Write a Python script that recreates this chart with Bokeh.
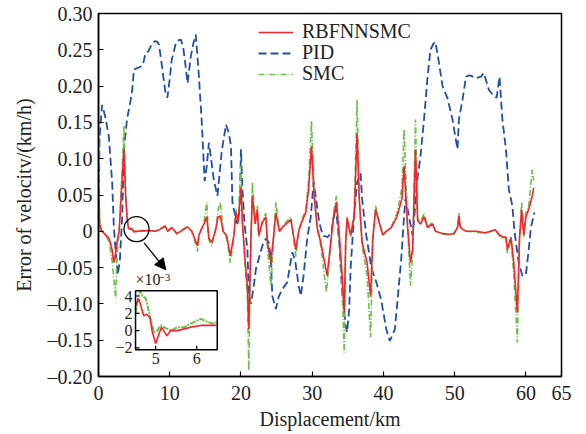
from bokeh.plotting import figure
from bokeh.models import (Range1d, FixedTicker, Legend, LegendItem, Arrow, NormalHead,
                          CustomJSTickFormatter)
from bokeh.embed import file_html
from bokeh.resources import INLINE
from bokeh.core.properties import value

FONT = "Liberation Serif"

# ---------------- data ----------------
pid_km = [0.0, 0.15, 0.5, 0.9, 1.45, 1.92, 2.15, 2.35, 2.7, 3.0, 3.33, 3.57, 4.0, 4.5, 4.74, 4.97,
          5.5, 6.2, 6.6, 7.0, 7.55, 8.0, 8.26, 8.5, 8.97, 9.44, 9.67, 10.0, 10.28, 10.85, 11.2,
          11.55, 11.87, 12.2, 12.5, 12.96, 13.3, 13.66, 14.1, 14.5, 14.9, 15.2, 15.5, 15.8, 16.2,
          16.7, 17.3, 17.9, 18.3, 18.6, 18.8, 19.0, 19.5, 19.8, 20.0, 20.2, 20.5, 20.9, 21.1,
          21.4, 21.8, 22.1, 23.0, 23.5, 23.9, 24.2, 24.4, 24.9, 25.3, 25.8, 26.5, 27.2, 27.6,
          28.1, 28.4, 28.8, 29.3, 29.8, 30.2, 30.6, 31.0, 31.5, 32.2, 32.7, 33.3, 33.8, 34.2,
          34.7, 34.9, 35.2, 35.4, 35.9, 36.3, 36.8, 37.0, 37.6, 38.3, 39.0, 39.7, 40.4, 40.9,
          41.6, 42.0, 42.5, 42.9, 43.1, 43.6, 44.1, 44.3, 44.7, 45.2, 45.7, 46.2, 46.6, 47.0,
          47.3, 47.8, 48.3, 49.0, 49.7, 50.1, 50.4, 50.6, 51.1, 51.6, 52.1, 53.0, 53.7, 54.1,
          54.8, 55.5, 55.9, 56.3, 56.7, 57.2, 57.6, 58.1, 58.4, 58.6, 59.0, 59.5, 60.0, 60.4,
          60.7, 61.2]
pid_err = [0.0, 0.13, 0.174, 0.160, 0.131, 0.067, 0.007, -0.02, -0.06, -0.04, 0.021, 0.113, 0.154,
           0.18, 0.195, 0.223, 0.225, 0.228, 0.245, 0.248, 0.259, 0.262, 0.261, 0.257, 0.223,
           0.188, 0.184, 0.21, 0.236, 0.259, 0.263, 0.264, 0.255, 0.23, 0.204, 0.241, 0.258,
           0.271, 0.213, 0.15, 0.069, 0.09, 0.122, 0.10, 0.07, 0.049, 0.11, 0.147, 0.135, 0.117,
           0.04, 0.03, 0.01, 0.03, 0.113, 0.06, 0.01, -0.025, -0.085, -0.10, -0.075, -0.052,
           -0.02, -0.01, -0.015, -0.038, -0.089, -0.107, -0.09, -0.08, -0.07, -0.029, -0.04,
           -0.075, -0.089, -0.06, -0.01, 0.02, 0.068, 0.04, 0.012, -0.006, -0.008, 0.0, 0.035,
           -0.015, -0.084, -0.13, -0.139, -0.107, -0.05, 0.026, 0.067, 0.08, 0.045, -0.006,
           -0.05, -0.07, -0.095, -0.135, -0.151, -0.135, -0.093, -0.038, 0.021, 0.045, 0.02,
           -0.006, 0.015, 0.067, 0.103, 0.154, 0.213, 0.25, 0.258, 0.261, 0.232, 0.2, 0.183,
           0.154, 0.13, 0.113, 0.154, 0.181, 0.213, 0.215, 0.211, 0.213, 0.218, 0.195, 0.186,
           0.184, 0.213, 0.154, 0.113, 0.058, 0.035, 0.0, -0.015, -0.043, -0.061, -0.06, -0.025,
           0.005, 0.026]

rbf_km = [0.0, 0.05, 0.15, 0.5, 1.0, 1.5, 1.9, 2.15, 2.4, 2.6, 2.9, 3.3, 3.57, 3.8, 4.0, 4.2,
          4.5, 4.59, 4.71, 4.86, 4.92, 5.0, 5.08, 5.14, 5.22, 5.27, 5.37, 5.53, 5.7, 5.85, 6.1,
          6.46, 7.0, 8.0, 8.7, 9.4, 9.7, 10.3, 11.0, 11.7, 12.5, 13.1, 13.7, 13.9, 14.1, 14.8,
          15.2, 15.5, 15.9, 16.4, 16.8, 17.1, 17.5, 18.0, 18.5, 19.0, 19.3, 19.6, 20.0, 20.2,
          20.6, 20.9, 21.1, 21.4, 21.6, 22.0, 22.3, 22.5, 23.0, 23.5, 23.7, 24.2, 24.7, 24.9,
          25.4, 25.8, 26.3, 27.0, 27.7, 28.1, 28.5, 29.1, 29.5, 29.9, 30.3, 30.7, 31.2, 32.1,
          32.6, 33.0, 33.4, 33.8, 34.2, 34.5, 34.7, 34.9, 35.4, 35.9, 36.3, 36.6, 37.0, 37.7,
          38.2, 38.5, 38.9, 39.4, 39.9, 40.4, 41.1, 41.9, 42.6, 42.9, 43.4, 43.8, 44.1, 44.5,
          44.8, 45.2, 45.7, 46.2, 46.9, 47.3, 48.3, 49.2, 49.9, 50.4, 50.6, 50.8, 51.6, 53.0,
          54.3, 55.7, 56.2, 56.7, 57.2, 57.4, 57.9, 58.3, 58.8, 59.1, 59.4, 59.7, 60.0, 60.4,
          60.9, 61.1]
rbf_err = [0.0, 0.06, 0.01, 0.0, -0.005, -0.01, -0.025, -0.043, -0.03, -0.015, 0.0, 0.07, 0.113,
           0.05, 0.02, 0.004, 0.003, 0.0037, 0.0017, 0.0015, -0.0002, -0.0015, -0.0004, 0.0004,
           -0.0002, -0.0006, 0.0, 0.0, 0.0002, 0.0004, 0.0006, 0.0006, 0.001, 0.0, 0.003, 0.007,
           0.0, 0.005, -0.003, 0.001, 0.006, 0.0, -0.015, -0.02, -0.005, 0.01, 0.02, -0.01,
           -0.015, 0.0, 0.02, 0.021, 0.0, -0.006, -0.034, -0.006, 0.026, 0.012, 0.06, 0.012,
           -0.043, -0.075, -0.135, -0.01, 0.049, 0.01, 0.03, -0.005, 0.012, 0.02, -0.015, -0.043,
           0.005, 0.025, 0.0, 0.005, 0.01, 0.016, -0.025, 0.0, 0.012, 0.026, 0.058, 0.117, 0.045,
           0.005, -0.015, -0.061, -0.015, 0.02, 0.04, -0.005, -0.06, -0.112, -0.015, 0.018,
           -0.005, 0.02, 0.135, 0.045, -0.015, -0.043, -0.09, -0.01, 0.03, 0.012, -0.005, 0.0,
           0.005, 0.02, 0.045, 0.09, 0.005, -0.043, -0.025, 0.113, 0.015, 0.01, 0.02, 0.005, 0.01,
           0.0, -0.003, -0.004, -0.003, 0.005, 0.021, 0.005, 0.0, 0.0, -0.002, 0.002, -0.004,
           -0.008, -0.008, -0.025, -0.008, -0.043, -0.112, -0.01, 0.03, -0.005, 0.02, 0.03,
           0.049, 0.06]

smc_km = [0.0, 0.08, 0.2, 0.5, 1.0, 1.5, 1.9, 2.2, 2.4, 2.6, 2.9, 3.3, 3.57, 3.8, 4.0, 4.2, 4.5,
          4.59, 4.63, 4.76, 4.84, 4.88, 4.96, 5.04, 5.12, 5.2, 5.37, 5.53, 5.7, 5.85, 6.1, 6.26,
          6.42, 7.0, 8.0, 8.7, 9.4, 9.7, 10.3, 11.0, 11.7, 12.5, 13.1, 13.7, 13.9, 14.1, 14.8,
          15.2, 15.5, 15.9, 16.4, 16.8, 17.1, 17.5, 18.0, 18.5, 19.0, 19.3, 19.6, 20.0, 20.2,
          20.6, 20.9, 21.1, 21.4, 21.6, 22.0, 22.3, 22.5, 23.0, 23.5, 23.7, 24.2, 24.7, 24.9,
          25.4, 25.8, 26.3, 27.0, 27.7, 28.1, 28.5, 29.1, 29.5, 29.9, 30.3, 30.7, 31.2, 32.0,
          32.6, 33.0, 33.4, 33.8, 34.2, 34.5, 34.7, 34.9, 35.4, 35.9, 36.3, 36.6, 37.0, 37.7,
          38.2, 38.5, 38.9, 39.4, 39.9, 40.4, 41.1, 41.9, 42.6, 42.9, 43.4, 43.8, 44.1, 44.5,
          44.8, 45.2, 45.7, 46.2, 46.9, 47.3, 48.3, 49.2, 49.9, 50.4, 50.6, 50.8, 51.6, 53.0,
          54.3, 55.7, 56.2, 56.7, 57.2, 57.4, 57.9, 58.3, 58.8, 59.1, 59.4, 59.7, 60.0, 60.4,
          60.9, 61.1]
smc_err = [0.2, 0.05, 0.0, 0.0, -0.005, -0.015, -0.04, -0.07, -0.093, -0.03, 0.0, 0.08, 0.145,
           0.06, 0.02, 0.005, 0.0035, 0.0042, 0.0046, 0.0037, 0.0021, 0.0013, -0.0002, 0.0,
           0.0006, 0.0004, 0.0, 0.0004, 0.0004, 0.0008, 0.00135, 0.001, 0.0008, 0.001, 0.0,
           0.004, 0.008, 0.0, 0.006, -0.004, 0.002, 0.007, 0.0, -0.02, -0.028, -0.005, 0.012,
           0.04, -0.012, -0.02, 0.0, 0.03, 0.04, 0.0, -0.01, -0.043, -0.008, 0.03, 0.015, 0.09,
           0.015, -0.05, -0.09, -0.192, -0.015, 0.067, 0.012, 0.035, -0.008, 0.015, 0.025, -0.02,
           -0.075, 0.008, 0.04, 0.0, 0.007, 0.012, 0.02, -0.035, 0.0, 0.015, 0.03, 0.07, 0.152,
           0.05, 0.005, -0.02, -0.084, -0.02, 0.025, 0.049, -0.008, -0.08, -0.167, -0.02, 0.02,
           -0.008, 0.025, 0.181, 0.05, -0.02, -0.06, -0.146, -0.015, 0.035, 0.015, -0.006, 0.0,
           0.006, 0.025, 0.06, 0.14, 0.006, -0.075, -0.03, 0.154, 0.018, 0.012, 0.025, 0.006,
           0.012, 0.0, -0.004, -0.005, -0.004, 0.006, 0.025, 0.006, 0.0, -0.001, -0.003, 0.002,
           -0.005, -0.01, -0.01, -0.03, -0.01, -0.06, -0.153, -0.015, 0.04, -0.008, 0.025, 0.035,
           0.085, 0.07]

# inset (zoomed) data, error in units of 1e-3
ins_rbf_km = [4.51, 4.59, 4.71, 4.78, 4.86, 4.92, 5.0, 5.08, 5.14, 5.22, 5.27, 5.37, 5.53, 5.7,
              5.85, 6.1, 6.34, 6.48]
ins_rbf = [2.9, 3.7, 1.7, 1.9, 1.5, -0.2, -1.5, -0.4, 0.4, -0.2, -0.6, 0.0, 0.0, 0.2, 0.4, 0.6,
           0.6, 0.6]
ins_smc_km = [4.51, 4.59, 4.63, 4.68, 4.76, 4.84, 4.88, 4.96, 5.04, 5.12, 5.2, 5.37, 5.53, 5.7,
              5.85, 6.1, 6.26, 6.42, 6.48]
ins_smc = [2.0, 4.2, 4.6, 4.0, 3.7, 2.1, 1.3, -0.2, 0.0, 0.6, 0.4, 0.0, 0.4, 0.4, 0.8, 1.35, 1.0,
           0.8, 1.0]

series_labels = ["RBFNNSMC", "PID", "SMC"]
x_ticks = [0, 10, 20, 30, 40, 50, 60, 65]
y_ticks = [-0.20, -0.15, -0.10, -0.05, 0, 0.05, 0.10, 0.15, 0.20, 0.25, 0.30]
ins_x_ticks = [5, 6]
ins_y_ticks = [4, 2, 0, -2]
ins_y_labels = ["4", "2", "0", "\u22122"]
ins_x_labels = ["5", "6"]

RED = "#f5232b"
BLUE = "#1f4fa8"
GREEN = "#6cc04a"

# ---------------- figure ----------------
p = figure(width=586, height=434, output_backend="svg", toolbar_location=None,
           x_range=Range1d(0, 65), y_range=Range1d(-0.2, 0.3),
           min_border_left=98, min_border_right=25, min_border_top=13, min_border_bottom=58)
p.background_fill_color = "white"
p.border_fill_color = "white"
p.outline_line_color = "black"
p.outline_line_width = 1.5
p.xgrid.visible = False
p.ygrid.visible = False

for ax in (p.xaxis, p.yaxis):
    ax.major_tick_in = 5
    ax.major_tick_out = 0
    ax.minor_tick_line_color = None
    ax.axis_line_width = 1.5
    ax.major_tick_line_width = 1.2
    ax.major_label_text_font = FONT
    ax.major_label_text_font_size = "20px"
    ax.major_label_text_color = "#222222"
    ax.axis_label_text_font = FONT
    ax.axis_label_text_font_size = "20px"
    ax.axis_label_text_font_style = "normal"
    ax.axis_label_text_color = "#222222"

p.xaxis.ticker = FixedTicker(ticks=x_ticks)
p.yaxis.ticker = FixedTicker(ticks=y_ticks)
p.yaxis.formatter = CustomJSTickFormatter(code="""
if (Math.abs(tick) < 1e-9) return "0";
const s = Math.abs(tick).toFixed(2);
return (tick < 0 ? "\\u2013" : "") + s;
""")
p.xaxis.axis_label = "Displacement/km"
p.yaxis.axis_label = "Error of velocitv/(km/h)"
p.xaxis.major_label_standoff = 9
p.yaxis.major_label_standoff = 6
p.xaxis.axis_label_standoff = 5
p.yaxis.axis_label_standoff = 10

r_rbf = p.line(rbf_km, rbf_err, line_color=RED, line_width=1.6)
r_pid = p.line(pid_km, pid_err, line_color=BLUE, line_width=1.8, line_dash="8 4")
r_smc = p.line(smc_km, smc_err, line_color=GREEN, line_width=1.6, line_dash="6 2 1 2")
p.renderers.remove(r_rbf)
p.renderers.append(r_rbf)

# one single-row legend per series so the row pitch matches the reference
for lab, rend, ypos in zip(series_labels, [r_rbf, r_pid, r_smc], [333, 312, 291]):
    lg = Legend(items=[LegendItem(label=lab, renderers=[rend])],
                location=(160, ypos), padding=0, margin=0, spacing=0,
                glyph_width=35, glyph_height=20, label_height=20, label_standoff=9,
                label_text_font=FONT, label_text_font_size="20px",
                label_text_color="#222222",
                border_line_alpha=0, background_fill_alpha=0)
    p.add_layout(lg, "center")

# circle highlighting the zoomed region and arrow toward the inset
p.scatter(x=[5.34], y=[0.003], marker="circle", size=25, fill_color=None,
          line_color="black", line_width=1.3)
p.add_layout(Arrow(end=NormalHead(size=11, fill_color="black", line_color="black"),
                   x_start=6.4, y_start=-0.016, x_end=9.45, y_end=-0.053,
                   line_color="black", line_width=1.3))

# ---------------- inset ----------------
ins_xr = Range1d(4.51, 6.5)
ins_yr = Range1d(-2.2, 4.6)
inset = p.subplot(x_source=ins_xr, y_source=ins_yr,
                  x_target=Range1d(5.2, 16.67), y_target=Range1d(-0.163, -0.082))
inset.quad(left=[ins_xr.start], right=[ins_xr.end], bottom=[ins_yr.start], top=[ins_yr.end],
           fill_color="white", line_color=None)
inset.line(ins_smc_km, ins_smc, line_color=GREEN, line_width=2.0, line_dash="6 1 2 1")
inset.line(ins_rbf_km, ins_rbf, line_color=RED, line_width=1.6)
inset.quad(left=[ins_xr.start], right=[ins_xr.end], bottom=[ins_yr.start], top=[ins_yr.end],
           fill_color=None, line_color="black", line_width=1.5)
inset.ray(x=[ins_xr.start] * len(ins_y_ticks), y=ins_y_ticks, length=4, length_units="screen",
          angle=0, line_color="black", line_width=1.2)
inset.ray(x=ins_x_ticks, y=[ins_yr.start] * len(ins_x_ticks), length=4, length_units="screen",
          angle=1.5708, line_color="black", line_width=1.2)
inset.text(x=[ins_xr.start] * len(ins_y_ticks), y=ins_y_ticks, text=ins_y_labels,
           x_offset=-3, text_align="right", text_baseline="middle",
           text_font=value(FONT), text_font_size="16px", text_color="#222222")
inset.text(x=ins_x_ticks, y=[ins_yr.start] * len(ins_x_ticks), text=ins_x_labels,
           y_offset=3, text_align="center", text_baseline="top",
           text_font=value(FONT), text_font_size="16px", text_color="#222222")
inset.text(x=[ins_xr.start], y=[ins_yr.end], text=["\u00d710"], y_offset=-3,
           text_align="left", text_baseline="bottom",
           text_font=value(FONT), text_font_size="16px", text_color="#222222")
inset.text(x=[ins_xr.start], y=[ins_yr.end], text=["\u22123"], x_offset=23, y_offset=-10,
           text_align="left", text_baseline="bottom",
           text_font=value(FONT), text_font_size="11px", text_color="#222222")

open("out.html", "w").write(file_html(p, INLINE))
